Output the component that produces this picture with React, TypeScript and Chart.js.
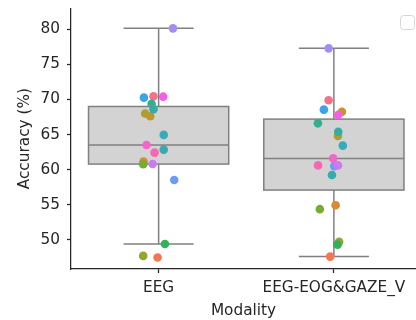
import { useEffect, useRef } from "react";
import { Chart, registerables } from "chart.js";

Chart.register(...registerables);

const categories = ["EEG", "EEG-EOG&GAZE_V"];
const yTicks = [50, 55, 60, 65, 70, 75, 80];

// one colour per subject (hue)
const subjectColors = [
  "#f77189", "#f7754f", "#dc8932", "#c39532", "#ae9d31", "#97a431", "#77ab31",
  "#33b05a", "#34ae91", "#36ada4", "#38aabb", "#37aab0", "#3ba3ec", "#6e9bf4",
  "#a48cf4", "#cc7af4", "#f45fe5", "#f565cc", "#f668b3",
];

// accuracy (%) for each subject, per modality
const eegAccuracy = [
  70.45, 47.46, 61.14, 67.6, 68.0, 47.7, 60.77, 49.4, 69.4, 68.6, 64.95, 62.85,
  70.26, 58.53, 80.14, 60.81, 70.4, 63.5, 62.42,
];
const eogGazeAccuracy = [
  69.9, 47.6, 54.93, 68.26, 64.8, 49.7, 54.36, 49.3, 66.6, 65.4, 63.42, 59.24,
  68.55, 60.5, 77.29, 60.6, 67.8, 61.6, 60.6,
];

// strip-plot jitter (category units)
const eegJitter = [
  -0.029, -0.006, -0.086, -0.048, -0.077, -0.088, -0.088, 0.036, -0.04, -0.029,
  0.029, 0.029, -0.084, 0.089, 0.082, -0.034, 0.026, -0.069, -0.023,
];
const eogGazeJitter = [
  -0.03, -0.021, 0.01, 0.046, 0.023, 0.03, -0.08, 0.021, -0.091, 0.025, 0.051,
  -0.011, -0.057, 0.002, -0.03, 0.023, 0.025, -0.004, -0.09,
];

const seriesByCategory = [eegAccuracy, eogGazeAccuracy];

function percentile(sorted: number[], p: number) {
  const pos = p * (sorted.length - 1);
  const lo = Math.floor(pos);
  const hi = Math.ceil(pos);
  return sorted[lo] + (sorted[hi] - sorted[lo]) * (pos - lo);
}

function boxStats(vals: number[]) {
  const s = [...vals].sort((a, b) => a - b);
  const q1 = percentile(s, 0.25);
  const med = percentile(s, 0.5);
  const q3 = percentile(s, 0.75);
  const iqr = q3 - q1;
  const lo = Math.min(...s.filter((v) => v >= q1 - 1.5 * iqr));
  const hi = Math.max(...s.filter((v) => v <= q3 + 1.5 * iqr));
  return { q1, med, q3, lo, hi };
}

const FONT = "'DejaVu Sans', sans-serif";
const TEXT = "#262626";

const boxPlugin = {
  id: "boxes",
  beforeDatasetsDraw(chart: any) {
    const { ctx, scales } = chart;
    const x = scales.x;
    const y = scales.y;
    ctx.save();
    seriesByCategory.forEach((vals, i) => {
      const st = boxStats(vals);
      const xl = x.getPixelForValue(i - 0.4);
      const xr = x.getPixelForValue(i + 0.4);
      const xc = x.getPixelForValue(i);
      const cl = x.getPixelForValue(i - 0.2);
      const cr = x.getPixelForValue(i + 0.2);
      const y1 = y.getPixelForValue(st.q1);
      const y3 = y.getPixelForValue(st.q3);
      const ym = y.getPixelForValue(st.med);
      const yl = y.getPixelForValue(st.lo);
      const yh = y.getPixelForValue(st.hi);
      ctx.lineWidth = 1.5;
      ctx.strokeStyle = "#808080";
      ctx.fillStyle = "#d3d3d3";
      ctx.fillRect(xl, y3, xr - xl, y1 - y3);
      ctx.strokeRect(xl, y3, xr - xl, y1 - y3);
      ctx.beginPath();
      ctx.moveTo(xc, y3);
      ctx.lineTo(xc, yh);
      ctx.moveTo(xc, y1);
      ctx.lineTo(xc, yl);
      ctx.moveTo(cl, yh);
      ctx.lineTo(cr, yh);
      ctx.moveTo(cl, yl);
      ctx.lineTo(cr, yl);
      ctx.moveTo(xl, ym);
      ctx.lineTo(xr, ym);
      ctx.stroke();
    });
    ctx.restore();
  },
  afterDraw(chart: any) {
    // empty legend frame (top right)
    const { ctx } = chart;
    ctx.save();
    ctx.beginPath();
    const x0 = 400.5, y0 = 15.5, w = 14, h = 14, r = 3;
    ctx.moveTo(x0 + r, y0);
    ctx.arcTo(x0 + w, y0, x0 + w, y0 + h, r);
    ctx.arcTo(x0 + w, y0 + h, x0, y0 + h, r);
    ctx.arcTo(x0, y0 + h, x0, y0, r);
    ctx.arcTo(x0, y0, x0 + w, y0, r);
    ctx.closePath();
    ctx.fillStyle = "rgba(255,255,255,0.8)";
    ctx.fill();
    ctx.strokeStyle = "#d6d6d6";
    ctx.lineWidth = 1;
    ctx.stroke();
    ctx.restore();
  },
};

export default function App() {
  const ref = useRef<HTMLCanvasElement | null>(null);

  useEffect(() => {
    if (!ref.current) return;
    const n = subjectColors.length;
    const datasets = subjectColors.map((color, i) => ({
      type: "scatter" as const,
      label: `S${i + 1}`,
      data: [
        { x: 0 + eegJitter[i], y: eegAccuracy[i] },
        { x: 1 + eogGazeJitter[i], y: eogGazeAccuracy[i] },
      ],
      backgroundColor: color,
      borderWidth: 0,
      pointRadius: 4.3,
      pointHoverRadius: 4.3,
      order: n - i,
    }));

    const chart = new Chart(ref.current, {
      type: "scatter",
      data: { datasets },
      plugins: [boxPlugin],
      options: {
        animation: false,
        responsive: false,
        layout: { autoPadding: false, padding: { top: 8.3, right: 0, left: 0, bottom: 0 } },
        plugins: { legend: { display: false }, tooltip: { enabled: false } },
        scales: {
          x: {
            type: "linear",
            min: -0.5,
            max: 1.4686,
            afterBuildTicks: (s: any) => {
              s.ticks = categories.map((_, i) => ({ value: i }));
            },
            afterFit: (s: any) => {
              s.height = 51;
              s.paddingLeft = 0;
              s.paddingRight = 0;
            },
            ticks: {
              callback: (v: any) => categories[v as number] ?? "",
              color: TEXT,
              font: { family: FONT, size: 15.3 },
              padding: 6,
              maxRotation: 0,
              autoSkip: false,
            },
            grid: {
              drawOnChartArea: false,
              drawTicks: true,
              tickLength: 4,
              tickColor: TEXT,
              tickWidth: 1.25,
            },
            border: { display: true, color: TEXT, width: 1.25 },
            title: {
              display: true,
              text: "Modality",
              color: TEXT,
              font: { family: FONT, size: 15.3 },
              padding: { top: 0, bottom: 0 },
            },
          },
          y: {
            type: "linear",
            min: 45.83,
            max: 83.0,
            afterBuildTicks: (s: any) => {
              s.ticks = yTicks.map((v) => ({ value: v }));
            },
            afterFit: (s: any) => {
              s.width = 71;
              s.paddingTop = 0;
              s.paddingBottom = 0;
            },
            ticks: {
              color: TEXT,
              font: { family: FONT, size: 15.3 },
              padding: 7,
            },
            grid: {
              drawOnChartArea: false,
              drawTicks: true,
              tickLength: 4,
              tickColor: TEXT,
              tickWidth: 1.25,
            },
            border: { display: true, color: TEXT, width: 1.25 },
            title: {
              display: true,
              text: "Accuracy (%)",
              color: TEXT,
              font: { family: FONT, size: 15.3 },
              padding: { top: 16, bottom: 0 },
            },
          },
        },
      },
    });
    return () => chart.destroy();
  }, []);

  return (
    <div style={{ position: "fixed", left: 0, top: 0, width: 416, height: 320, overflow: "hidden", background: "#fff" }}>
      <canvas ref={ref} width={416} height={320} style={{ display: "block", width: 416, height: 320 }} />
    </div>
  );
}
